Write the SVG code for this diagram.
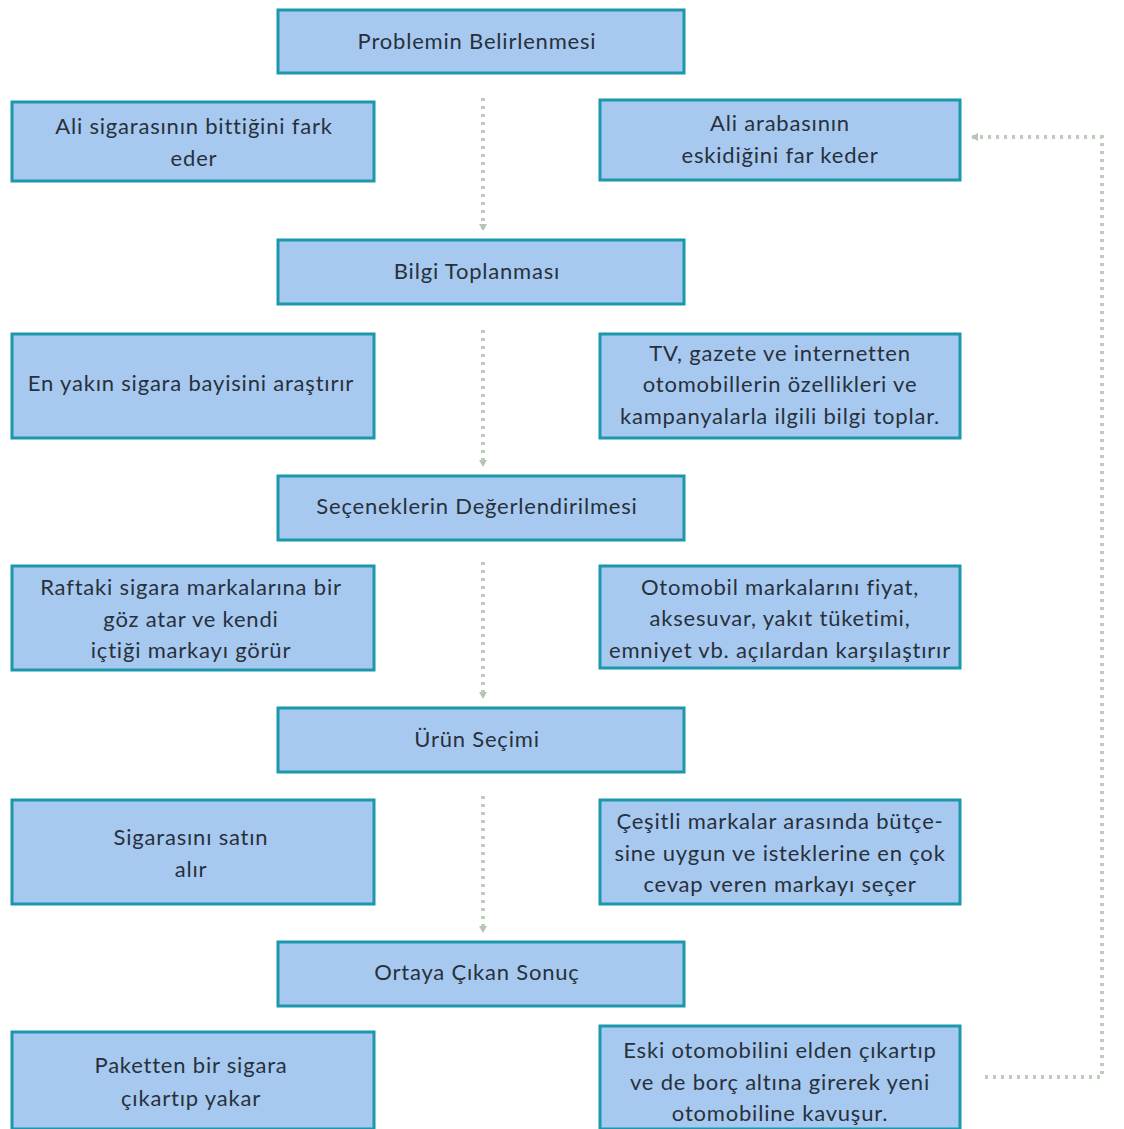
<svg xmlns="http://www.w3.org/2000/svg" width="1124" height="1129" viewBox="0 0 1124 1129">
<style>
.box{fill:#a8c9ef;stroke:#1b98ad;stroke-width:3}
.t{font-family:Lato,"Open Sans",sans-serif;font-size:22px;letter-spacing:0.8px;fill:#27313d;text-anchor:middle}
.c{fill:none;stroke:#a9bca6;stroke-width:4;stroke-dasharray:3 5;opacity:0.75}
</style>
<defs>
<marker id="ah" markerWidth="8" markerHeight="8" refX="6" refY="4" orient="auto" markerUnits="userSpaceOnUse">
<path d="M0,0 L7,4 L0,8 Z" fill="#9fb39c"/>
</marker>
</defs>
<rect width="1124" height="1129" fill="#ffffff"/>
<g id="connectors">
<line class="c" x1="483" y1="98" x2="483" y2="230" marker-end="url(#ah)"/>
<line class="c" x1="483" y1="330" x2="483" y2="466" marker-end="url(#ah)"/>
<line class="c" x1="483" y1="562" x2="483" y2="698" marker-end="url(#ah)"/>
<line class="c" x1="483" y1="796" x2="483" y2="932" marker-end="url(#ah)"/>
<polyline class="c" points="985,1077 1102,1077 1102,137 972,137" marker-end="url(#ah)"/>
</g>
<g id="n1"><rect class="box" x="278" y="10" width="406" height="63"/><text class="t" x="477" y="49">Problemin Belirlenmesi</text></g>
<g id="n2"><rect class="box" x="12" y="102" width="362" height="79"/><text class="t" x="194" y="134">Ali sigarasının bittiğini fark</text><text class="t" x="194" y="166">eder</text></g>
<g id="n3"><rect class="box" x="600" y="100" width="360" height="80"/><text class="t" x="780" y="131">Ali arabasının</text><text class="t" x="780" y="163">eskidiğini far keder</text></g>
<g id="n4"><rect class="box" x="278" y="240" width="406" height="64"/><text class="t" x="477" y="279">Bilgi Toplanması</text></g>
<g id="n5"><rect class="box" x="12" y="334" width="362" height="104"/><text class="t" x="191" y="391">En yakın sigara bayisini araştırır</text></g>
<g id="n6"><rect class="box" x="600" y="334" width="360" height="104"/><text class="t" x="780" y="361">TV, gazete ve internetten</text><text class="t" x="780" y="392">otomobillerin özellikleri ve</text><text class="t" x="780" y="424">kampanyalarla ilgili bilgi toplar.</text></g>
<g id="n7"><rect class="box" x="278" y="476" width="406" height="64"/><text class="t" x="477" y="514">Seçeneklerin Değerlendirilmesi</text></g>
<g id="n8"><rect class="box" x="12" y="566" width="362" height="104"/><text class="t" x="191" y="595">Raftaki sigara markalarına bir</text><text class="t" x="191" y="627">göz atar ve kendi</text><text class="t" x="191" y="658">içtiği markayı görür</text></g>
<g id="n9"><rect class="box" x="600" y="566" width="360" height="102"/><text class="t" x="780" y="595">Otomobil markalarını fiyat,</text><text class="t" x="780" y="626">aksesuvar, yakıt tüketimi,</text><text class="t" x="780" y="658">emniyet vb. açılardan karşılaştırır</text></g>
<g id="n10"><rect class="box" x="278" y="708" width="406" height="64"/><text class="t" x="477" y="747">Ürün Seçimi</text></g>
<g id="n11"><rect class="box" x="12" y="800" width="362" height="104"/><text class="t" x="191" y="845">Sigarasını satın</text><text class="t" x="191" y="877">alır</text></g>
<g id="n12"><rect class="box" x="600" y="800" width="360" height="104"/><text class="t" x="780" y="829">Çeşitli markalar arasında bütçe-</text><text class="t" x="780" y="861">sine uygun ve isteklerine en çok</text><text class="t" x="780" y="892">cevap veren markayı seçer</text></g>
<g id="n13"><rect class="box" x="278" y="942" width="406" height="64"/><text class="t" x="477" y="980">Ortaya Çıkan Sonuç</text></g>
<g id="n14"><rect class="box" x="12" y="1032" width="362" height="97"/><text class="t" x="191" y="1073">Paketten bir sigara</text><text class="t" x="191" y="1106">çıkartıp yakar</text></g>
<g id="n15"><rect class="box" x="600" y="1026" width="360" height="103"/><text class="t" x="780" y="1058">Eski otomobilini elden çıkartıp</text><text class="t" x="780" y="1090">ve de borç altına girerek yeni</text><text class="t" x="780" y="1121">otomobiline kavuşur.</text></g>
</svg>
